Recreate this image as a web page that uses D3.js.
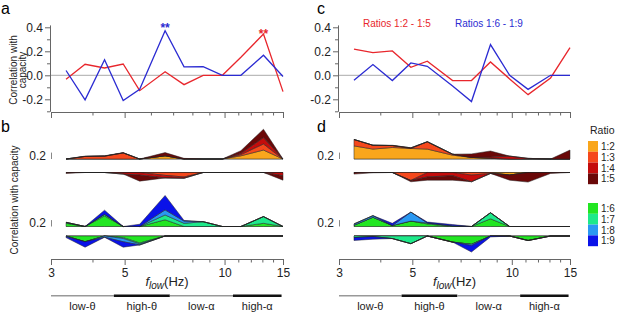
<!DOCTYPE html>
<html>
<head>
<meta charset="utf-8">
<script src="https://cdn.jsdelivr.net/npm/d3@7"></script>
<style>
body { margin: 0; background: #fff; }
svg { font-family: "Liberation Sans", Arial, sans-serif; }
</style>
</head>
<body>
<svg width="617" height="312"></svg>
<script>
// f_low centres (Hz)
const freqs = [3.33, 3.8, 4.35, 4.95, 5.55, 6.62, 7.55, 8.62, 9.85, 11.2, 13.1, 15];

// panel a / c: correlation with capacity
const aRed  = [-0.033, 0.092, 0.061, 0.094, -0.128, 0.03, -0.078, 0, 0, 0.15, 0.344, -0.136];
const aBlue = [0.04, -0.205, 0.13, -0.21, -0.117, 0.372, 0.07, 0.072, 0, 0, 0.167, -0.01];
const cRed  = [0.219, 0.189, 0.203, 0.067, 0.117, -0.044, -0.044, 0.111, -0.03, -0.161, -0.022, 0.231];
const cBlue = [-0.042, 0.089, -0.044, 0.103, 0.075, -0.09, -0.219, 0.256, 0, -0.117, 0, 0];

// panel b: per ratio
const bR12 = [0, 0, 0, 0, 0, 0.1, 0, 0, 0, 0.1, 0.28, 0];
const bR13 = [0, 0.08, 0.09, 0.19, 0, -0.09, -0.14, 0, 0, 0.04, 0.19, 0];
const bR14 = [0, 0, 0, -0.05, -0.08, -0.08, -0.04, 0, 0, 0.04, 0.2, -0.1];
const bR15 = [-0.03, 0.01, 0.01, 0.01, -0.19, 0.1, 0.02, 0, 0, 0.08, 0.26, -0.14];
const bG16 = [0.1, -0.18, 0.33, -0.05, -0.22, 0.21, 0, 0, 0, 0, 0.1, 0];
const bG17 = [0.03, 0, 0.05, -0.03, -0.03, 0.15, 0.1, 0.15, 0, 0, 0.21, 0];
const bG18 = [-0.02, 0, -0.04, -0.1, -0.03, 0.16, 0.07, 0, 0, 0, 0, 0];
const bG19 = [-0.03, -0.17, 0.13, -0.17, 0.07, 0.45, 0.02, 0, 0, 0, 0, 0];

// panel d: per ratio
const dR12 = [0.41, 0.31, 0.36, 0.33, 0.31, 0.12, 0.05, 0.02, -0.08, 0, 0, 0];
const dR13 = [0.2, 0.12, 0.06, -0.25, 0.23, 0.03, -0.08, -0.03, 0, 0, 0, 0];
const dR14 = [0, 0, 0, 0.02, -0.14, -0.1, -0.21, 0.04, 0.09, 0.02, 0, 0];
const dR15 = [-0.05, -0.01, 0.01, -0.04, -0.1, -0.14, 0.11, 0.19, -0.16, -0.3, -0.03, 0.28];
const dG16 = [0.04, 0.29, 0.03, 0.17, 0.08, -0.19, -0.26, 0.24, 0, -0.14, 0, 0];
const dG17 = [-0.05, -0.02, -0.08, -0.24, 0.03, 0.02, 0, 0.19, 0, 0, 0, 0];
const dG18 = [0.04, 0.05, 0, 0.28, 0, 0, -0.04, 0, 0, 0, 0, 0];
const dG19 = [-0.09, -0.08, 0.07, 0, 0.03, 0.04, -0.2, -0.03, 0, 0, 0, 0];

const ratiosLow = ["1:2", "1:3", "1:4", "1:5"];
const ratiosHigh = ["1:6", "1:7", "1:8", "1:9"];
const colorsLow = ["#f9a61c", "#f5481c", "#c40c0c", "#6a0808"];
const colorsHigh = ["#22e622", "#1ee98a", "#2a98f2", "#0a12e8"];

const xTicks = [3, 4, 5, 6, 7, 8, 9, 10, 11, 12, 13, 14, 15];
const xLabels = [3, 5, 10, 15];
const yTicks = [-0.3, -0.2, -0.1, 0, 0.1, 0.2, 0.3, 0.4];
const bandNames = ["low-\u03b8", "high-\u03b8", "low-\u03b1", "high-\u03b1"];
const bandEdges = [3, 4.64, 6.84, 10.6, 14.85];

const svg = d3.select("svg");
const yLine = d3.scaleLinear().domain([-0.3, 0.42]).range([111.3, 24.9]);
const K = 32; // px per correlation unit in the stacked panels
const base = { lowPos: 159, lowNeg: 172.5, highPos: 226.5, highNeg: 236 };

function styleAxis(g) {
  g.selectAll("path, line").attr("stroke", "#666").attr("stroke-width", 1);
  g.selectAll("text").attr("fill", "#222").style("font-size", "12px");
}

function drawStack(g, x, series, colors, yPos, yNeg) {
  const keys = [0, 1, 2, 3];
  const pos = freqs.map((f, i) => { const o = {}; series.forEach((s, j) => o[j] = Math.max(s[i], 0)); return o; });
  const neg = freqs.map((f, i) => { const o = {}; series.forEach((s, j) => o[j] = Math.min(s[i], 0)); return o; });
  const sp = d3.stack().keys(keys)(pos);
  const sn = d3.stack().keys(keys)(neg);

  g.append("line").attr("x1", x(freqs[0])).attr("x2", x(freqs[11]))
    .attr("y1", yPos).attr("y2", yPos).attr("stroke", "#999").attr("stroke-width", 1);
  g.append("line").attr("x1", x(freqs[0])).attr("x2", x(freqs[11]))
    .attr("y1", yNeg).attr("y2", yNeg).attr("stroke", "#444").attr("stroke-width", 1);

  [[sp, yPos], [sn, yNeg]].forEach(([st, b]) => {
    const area = d3.area()
      .x((d, i) => x(freqs[i]))
      .y0(d => b - d[0] * K)
      .y1(d => b - d[1] * K);
    g.selectAll(null).data(st).enter().append("path")
      .attr("d", area)
      .attr("fill", d => colors[d.key])
      .attr("stroke", "#222").attr("stroke-width", 0.5).attr("stroke-linejoin", "round");
  });

  // 0.2 scale bar
  const x0 = x.range()[0];
  g.append("line").attr("x1", x0 + 0.5).attr("x2", x0 + 0.5)
    .attr("y1", yPos).attr("y2", yPos - 0.2 * K).attr("stroke", "#888");
  g.append("text").attr("x", x0 - 5).attr("y", yPos - 0.1 * K + 4)
    .attr("text-anchor", "end").style("font-size", "12px").attr("fill", "#222").text("0.2");
}

function panel(xr, red, blue, lowSeries, highSeries, letters) {
  const x = d3.scaleLog().domain([3, 15]).range(xr);
  const g = svg.append("g");

  // y axis
  const yAx = d3.axisLeft(yLine).tickValues(yTicks).tickSize(5).tickPadding(2).tickSizeOuter(0)
    .tickFormat((d, i) => i % 2 === 1 ? d.toFixed(1) : "");
  const ya = g.append("g").attr("transform", `translate(${xr[0] - 1},0)`).call(yAx);
  ya.selectAll(".tick line").attr("x2", (d, i) => i % 2 === 1 ? -5 : -3);
  styleAxis(ya);

  // top x axis
  const xAxTop = d3.axisBottom(x).tickValues(xTicks).tickFormat("").tickSizeOuter(0);
  const xt = g.append("g").attr("transform", "translate(0,112)").call(xAxTop);
  xt.selectAll(".tick line").attr("y2", d => xLabels.includes(d) ? 6 : 3.5);
  styleAxis(xt);

  // zero line
  g.append("line").attr("x1", xr[0]).attr("x2", xr[1])
    .attr("y1", yLine(0)).attr("y2", yLine(0)).attr("stroke", "#aaa").attr("stroke-width", 1);

  const line = d3.line().x((d, i) => x(freqs[i])).y(d => yLine(d));
  g.append("path").attr("d", line(red)).attr("fill", "none").attr("stroke", "#e8262c").attr("stroke-width", 1.3);
  g.append("path").attr("d", line(blue)).attr("fill", "none").attr("stroke", "#2b2bd2").attr("stroke-width", 1.3);

  // stacked panels
  drawStack(g, x, lowSeries, colorsLow, base.lowPos, base.lowNeg);
  drawStack(g, x, highSeries, colorsHigh, base.highPos, base.highNeg);

  // bottom x axis
  const xAxBot = d3.axisBottom(x).tickValues(xTicks).tickSize(6).tickPadding(3).tickSizeOuter(0)
    .tickFormat(d => xLabels.includes(d) ? d : "");
  const xb = g.append("g").attr("transform", "translate(0,259)").call(xAxBot);
  xb.selectAll(".tick line").attr("y2", d => xLabels.includes(d) ? 6 : 3.5);
  styleAxis(xb);

  // axis title
  const t = g.append("text").attr("x", (xr[0] + xr[1]) / 2).attr("y", 286)
    .attr("text-anchor", "middle").style("font-size", "13px").attr("fill", "#222");
  t.append("tspan").style("font-style", "italic").text("f");
  t.append("tspan").style("font-style", "italic").style("font-size", "10px").attr("dy", 3).text("low");
  t.append("tspan").attr("dy", -3).text("(Hz)");

  // frequency bands
  bandNames.forEach((name, i) => {
    const a = x(bandEdges[i]), b = x(bandEdges[i + 1]);
    g.append("line").attr("x1", a).attr("x2", b).attr("y1", 295.7).attr("y2", 295.7)
      .attr("stroke", i % 2 ? "#111" : "#999").attr("stroke-width", i % 2 ? 2.5 : 1.5);
    g.append("text").attr("x", (a + b) / 2).attr("y", 310).attr("text-anchor", "middle")
      .style("font-size", "11px").attr("fill", "#222").text(name);
  });

  // panel letters
  const lx = xr[0] > 300 ? 317 : 1;
  g.append("text").attr("x", lx).attr("y", 14).style("font-size", "16px").text(letters[0]);
  g.append("text").attr("x", lx).attr("y", 132).style("font-size", "16px").text(letters[1]);
  return x;
}

const xa = panel([51, 283], aRed, aBlue, [bR12, bR13, bR14, bR15], [bG16, bG17, bG18, bG19], ["a", "b"]);
const xc = panel([339, 570], cRed, cBlue, [dR12, dR13, dR14, dR15], [dG16, dG17, dG18, dG19], ["c", "d"]);

// significance stars
svg.append("text").attr("x", xa(freqs[5])).attr("y", 32).attr("text-anchor", "middle")
  .style("font-size", "12px").style("font-weight", "bold").attr("fill", "#2b2bd2").text("**");
svg.append("text").attr("x", xa(freqs[10])).attr("y", 38).attr("text-anchor", "middle")
  .style("font-size", "12px").style("font-weight", "bold").attr("fill", "#e8262c").text("**");

// y labels
svg.append("text").attr("transform", "translate(17,70) rotate(-90)").attr("text-anchor", "middle")
  .style("font-size", "10px").attr("fill", "#222").text("Correlation with");
svg.append("text").attr("transform", "translate(26,70) rotate(-90)").attr("text-anchor", "middle")
  .style("font-size", "10px").attr("fill", "#222").text("capacity");
svg.append("text").attr("transform", "translate(18,200) rotate(-90)").attr("text-anchor", "middle")
  .style("font-size", "10px").attr("fill", "#222").text("Correlation with capacity");

// panel c legend
svg.append("text").attr("x", 363).attr("y", 27).style("font-size", "10px").attr("fill", "#e8262c").text("Ratios 1:2 - 1:5");
svg.append("text").attr("x", 455).attr("y", 27).style("font-size", "10px").attr("fill", "#2b2bd2").text("Ratios 1:6 - 1:9");

// ratio legend
svg.append("text").attr("x", 590).attr("y", 134).style("font-size", "10.5px").attr("fill", "#222").text("Ratio");
[[ratiosLow, colorsLow, 141], [ratiosHigh, colorsHigh, 203]].forEach(([names, cols, top]) => {
  names.forEach((n, j) => {
    svg.append("rect").attr("x", 588).attr("y", top + j * 10.8).attr("width", 10).attr("height", 10.8)
      .attr("fill", cols[j]);
    svg.append("text").attr("x", 601).attr("y", top + j * 10.8 + 9).style("font-size", "10px")
      .attr("fill", "#222").text(n);
  });
});
</script>
</body>
</html>
